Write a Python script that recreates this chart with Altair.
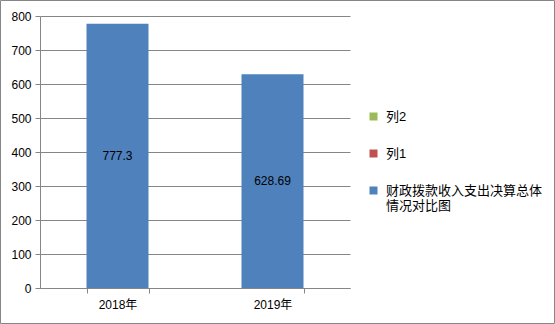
import altair as alt
import pandas as pd

years = ["2018年", "2019年"]
values = [777.3, 628.69]
main_series = "财政拨款收入支出决算总体情况对比图"
series_order = ["列2", "列1", main_series]
series_colors = ["#9BBB59", "#C0504D", "#4F81BD"]
y_ticks = [0, 100, 200, 300, 400, 500, 600, 700, 800]

df = pd.DataFrame({"year": years, "value": values, "series": [main_series] * len(years)})

FONT = "Liberation Sans, 'Noto Sans CJK SC', sans-serif"
GRAY = "#868686"

xenc = alt.X(
    "year:N",
    sort=years,
    scale=alt.Scale(paddingInner=0.6, paddingOuter=0.3),
    axis=alt.Axis(
        title=None, labelAngle=0, tickBand="extent", domainColor=GRAY, tickColor=GRAY,
        tickSize=5, labelPadding=6, labelFontSize=12, labelColor="#000000", labelFont=FONT,
    ),
)

base = alt.Chart(df)

bars = base.mark_bar().encode(
    x=xenc,
    y=alt.Y(
        "value:Q",
        scale=alt.Scale(domain=[0, 800], nice=False),
        axis=alt.Axis(
            title=None, values=y_ticks, tickCount=9, labelOverlap=False, grid=True,
            gridColor=GRAY, domainColor=GRAY,
            tickColor=GRAY, tickSize=5, labelPadding=4, labelFontSize=12,
            labelColor="#000000", labelFont=FONT,
        ),
    ),
    color=alt.Color(
        "series:N",
        scale=alt.Scale(domain=series_order, range=series_colors),
        legend=alt.Legend(
            title=None, orient="none", legendX=327, legendY=94, padding=0,
            symbolType="square", symbolSize=64, symbolStrokeWidth=0,
            labelFontSize=13, labelFont=FONT, labelColor="#000000",
            rowPadding=23, labelOffset=6, labelLimit=300,
            labelExpr="datum.label == '财政拨款收入支出决算总体情况对比图' ? ['财政拨款收入支出决算总体','情况对比图'] : datum.label",
        ),
    ),
)

labels = base.transform_calculate(mid="datum.value / 2").mark_text(
    fontSize=12, font=FONT, color="#000000"
).encode(
    x=alt.X("year:N", sort=years),
    y=alt.Y("mid:Q"),
    text=alt.Text("value:N"),
)

border = alt.Chart(pd.DataFrame({"a": [0]})).mark_rect(
    filled=False, stroke=GRAY, strokeWidth=1, clip=False
).encode(
    x=alt.value(-39.5), x2=alt.value(514.5), y=alt.value(-15.5), y2=alt.value(307.5)
)

chart = alt.layer(border, bars, labels).properties(
    width=310, height=272,
    padding={"left": 40, "top": 16, "right": 205, "bottom": 36},
    autosize=alt.AutoSizeParams(type="none"),
).configure_view(stroke=None)

chart.save("out.html", embed_options={"renderer": "svg", "actions": False})
